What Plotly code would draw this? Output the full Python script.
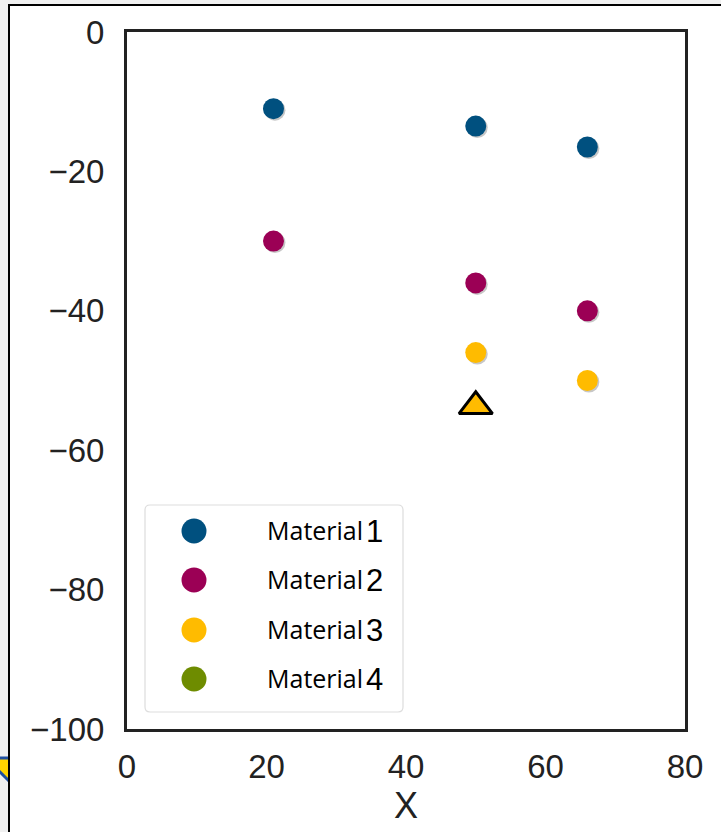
import plotly.graph_objects as go

# Measured positions (x, depth) for each material
materials = ["Material 1", "Material 2", "Material 3", "Material 4"]
colors = ["#00507F", "#9B0055", "#FFBB00", "#6E8C00"]

m1_x = [21, 50, 66]
m1_y = [-11, -13.5, -16.5]
m2_x = [21, 50, 66]
m2_y = [-30, -36, -40]
m3_x = [50, 66]
m3_y = [-46, -50]
m4_x = []
m4_y = []

# Highlighted sample
marker_x = [50]
marker_y = [-53.7]

x_ticks = [0, 20, 40, 60, 80]
y_ticks = [0, -20, -40, -60, -80, -100]

W, H = 721, 832
X0, X1, Y0, Y1 = 127, 685, 32, 729
UX = 80 / (X1 - X0)     # data units per pixel
UY = 100 / (Y1 - Y0)


def px(x):
    return (x - X0) / (X1 - X0)


def py(y):
    return (Y1 - y) / (Y1 - Y0)


fig = go.Figure()
series = [(m1_x, m1_y), (m2_x, m2_y), (m3_x, m3_y), (m4_x, m4_y)]
for name, col, (xs, ys) in zip(materials, colors, series):
    # soft drop shadow, offset by ~1.5 px
    fig.add_trace(go.Scatter(
        x=[v + 1.5 * UX for v in xs], y=[v - 1.5 * UY for v in ys],
        mode="markers", showlegend=False, hoverinfo="skip",
        marker=dict(size=21, color="rgba(0,0,0,0.22)", line=dict(width=0)),
    ))
    fig.add_trace(go.Scatter(
        x=xs, y=ys, mode="markers", name=name, showlegend=False,
        marker=dict(size=21, color=col, line=dict(width=0)),
    ))

fig.add_trace(go.Scatter(
    x=marker_x, y=marker_y, mode="markers", showlegend=False,
    marker=dict(symbol="triangle-up", size=29, color="#FFBB00",
                line=dict(color="black", width=3)),
))

shapes = []
# window frame
shapes.append(dict(type="path", xref="paper", yref="paper", layer="below",
                   path=f"M{px(-14)},{py(758)} L{px(32)},{py(758)} L{px(9)},{py(781)} Z",
                   fillcolor="#FFD400", line=dict(color="#1F4FA0", width=3)))
shapes.append(dict(type="rect", xref="paper", yref="paper", layer="below",
                   x0=px(9), x1=px(740), y0=py(5), y1=py(850),
                   fillcolor="white", line=dict(width=0)))
shapes.append(dict(type="line", xref="paper", yref="paper", layer="below",
                   x0=px(9), x1=px(9), y0=py(4), y1=py(850),
                   line=dict(color="black", width=2)))
shapes.append(dict(type="line", xref="paper", yref="paper", layer="below",
                   x0=px(8), x1=px(740), y0=py(5), y1=py(5),
                   line=dict(color="black", width=2)))

# legend box
lx0, lx1, ly0, ly1, r = 145, 403, 505, 712, 5
path = (f"M{px(lx0 + r)},{py(ly0)} L{px(lx1 - r)},{py(ly0)} "
        f"Q{px(lx1)},{py(ly0)} {px(lx1)},{py(ly0 + r)} "
        f"L{px(lx1)},{py(ly1 - r)} Q{px(lx1)},{py(ly1)} {px(lx1 - r)},{py(ly1)} "
        f"L{px(lx0 + r)},{py(ly1)} Q{px(lx0)},{py(ly1)} {px(lx0)},{py(ly1 - r)} "
        f"L{px(lx0)},{py(ly0 + r)} Q{px(lx0)},{py(ly0)} {px(lx0 + r)},{py(ly0)} Z")
shapes.append(dict(type="path", xref="paper", yref="paper", path=path,
                   fillcolor="white", line=dict(color="#DDDDDD", width=1.2)))

annotations = []
row_y = [531, 580, 630, 679]
for name, col, yc in zip(materials, colors, row_y):
    shapes.append(dict(type="circle", xref="paper", yref="paper",
                       x0=px(194 - 12.5), x1=px(194 + 12.5),
                       y0=py(yc + 12.5), y1=py(yc - 12.5),
                       fillcolor=col, line=dict(width=0)))
    word, num = name.split(" ")
    annotations.append(dict(
        xref="paper", yref="paper", x=px(265), y=py(yc - 1), xanchor="left", yanchor="middle",
        showarrow=False, text=word,
        font=dict(color="black", size=25, family="Open Sans"),
    ))
    annotations.append(dict(
        xref="paper", yref="paper", x=px(364), y=py(yc), xanchor="left", yanchor="middle",
        showarrow=False, text=num,
        font=dict(color="black", size=31, family="Liberation Sans"),
    ))

axis_common = dict(
    showgrid=False, zeroline=False, showline=True, mirror=True,
    linecolor="#222222", linewidth=3, ticks="",
    tickfont=dict(family="Liberation Sans, Arial", size=33, color="#222222"),
)

fig.update_layout(
    width=W, height=H,
    margin=dict(l=X0, r=W - X1, t=Y0, b=H - Y1),
    paper_bgcolor="#F0F0F0", plot_bgcolor="white",
    showlegend=False,
    shapes=shapes, annotations=annotations,
    xaxis=dict(range=[0, 80], tickvals=x_ticks, ticklabelstandoff=6,
               title=dict(text="X", font=dict(family="Liberation Sans, Arial", size=36, color="#222222"),
                          standoff=4),
               **axis_common),
    yaxis=dict(range=[-100, 0], tickvals=y_ticks, ticklabelstandoff=13, **axis_common),
)

fig.write_html("out.html")
